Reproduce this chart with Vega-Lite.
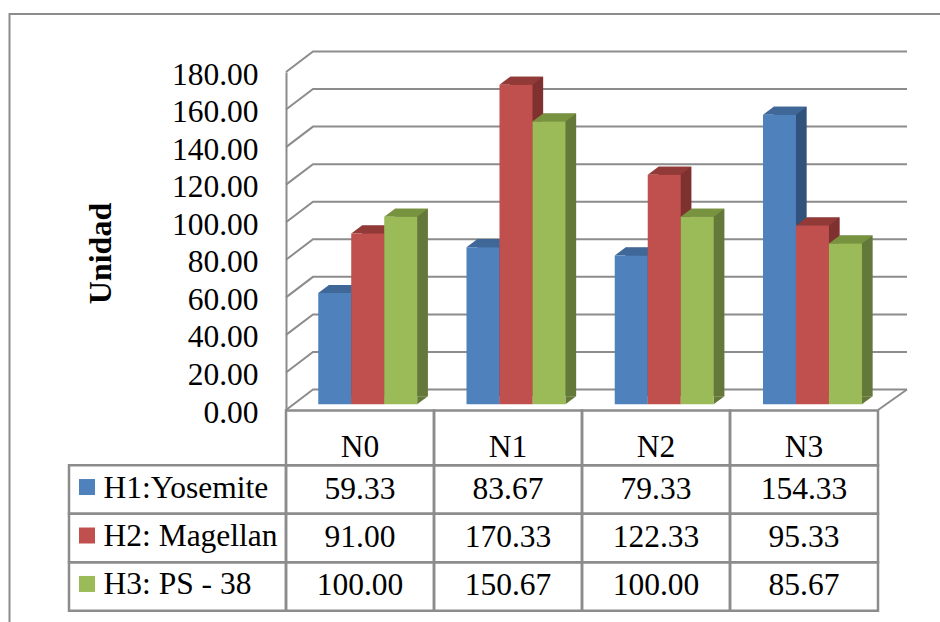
{
  "$schema": "https://vega.github.io/schema/vega-lite/v6.json",
  "width": 936,
  "height": 614,
  "autosize": "none",
  "padding": {"left": 9.5, "top": 14, "right": 0, "bottom": 0},
  "background": "white",
  "view": {"stroke": "#8c8c8c", "strokeWidth": 2, "fill": "white"},
  "config": {"font": "Liberation Serif"},
  "datasets": {
    "measures": [
      {"level": "N0", "series": "H1:Yosemite", "value": 59.33},
      {"level": "N0", "series": "H2: Magellan", "value": 91.0},
      {"level": "N0", "series": "H3: PS - 38", "value": 100.0},
      {"level": "N1", "series": "H1:Yosemite", "value": 83.67},
      {"level": "N1", "series": "H2: Magellan", "value": 170.33},
      {"level": "N1", "series": "H3: PS - 38", "value": 150.67},
      {"level": "N2", "series": "H1:Yosemite", "value": 79.33},
      {"level": "N2", "series": "H2: Magellan", "value": 122.33},
      {"level": "N2", "series": "H3: PS - 38", "value": 100.0},
      {"level": "N3", "series": "H1:Yosemite", "value": 154.33},
      {"level": "N3", "series": "H2: Magellan", "value": 95.33},
      {"level": "N3", "series": "H3: PS - 38", "value": 85.67}
    ],
    "levels": [{"level": "N0"}, {"level": "N1"}, {"level": "N2"}, {"level": "N3"}],
    "seriesNames": [{"series": "H1:Yosemite"}, {"series": "H2: Magellan"}, {"series": "H3: PS - 38"}],
    "ticks": [
      {"tick": 0}, {"tick": 20}, {"tick": 40}, {"tick": 60}, {"tick": 80},
      {"tick": 100}, {"tick": 120}, {"tick": 140}, {"tick": 160}, {"tick": 180}
    ]
  },
  "layer": [
    {
      "layer": [
        {
          "data": {"name": "ticks"},
          "mark": {
            "type": "point",
            "shape": "M0,0 L27,-20.5 L621,-20.5",
            "size": 4,
            "filled": false,
            "fill": "transparent",
            "stroke": "#8c8c8c",
            "strokeWidth": 2,
            "opacity": 1
          },
          "encoding": {
            "x": {
              "datum": "N0",
              "type": "nominal",
              "bandPosition": 0,
              "scale": {"type": "band", "domain": ["N0", "N1", "N2", "N3"], "range": [276.5, 868.5], "padding": 0},
              "axis": null
            },
            "y": {
              "field": "tick",
              "type": "quantitative",
              "scale": {"domain": [0, 180], "range": [396, 58], "nice": false},
              "axis": {
                "orient": "left",
                "offset": -276.5,
                "values": [0, 20, 40, 60, 80, 100, 120, 140, 160, 180],
                "format": ".2f",
                "grid": false,
                "ticks": false,
                "domain": true,
                "domainColor": "#8c8c8c",
                "domainWidth": 2,
                "labelColor": "#000000",
                "labelFont": "Liberation Serif",
                "labelFontSize": 31.5,
                "labelPadding": 28,
                "labelOffset": 3,
                "labelOverlap": false,
                "labelBound": false,
                "title": "Unidad",
                "titleFont": "Liberation Serif",
                "titleFontWeight": "bold",
                "titleFontSize": 32,
                "titleColor": "#000000",
                "titleAngle": 270,
                "titleAlign": "center",
                "titleBaseline": "alphabetic",
                "titleX": -176,
                "titleY": 239
              }
            }
          }
        },
        {
          "data": {"values": [{"tick": 0}]},
          "mark": {
            "type": "point",
            "shape": "M621,-20.5 L592,0",
            "size": 4,
            "filled": false,
            "fill": "transparent",
            "stroke": "#8c8c8c",
            "strokeWidth": 2,
            "opacity": 1
          },
          "encoding": {
            "x": {"datum": "N0", "type": "nominal", "bandPosition": 0, "axis": null},
            "y": {"field": "tick", "type": "quantitative"}
          }
        }
      ]
    },
    {
      "data": {"name": "measures"},
      "mark": {"type": "bar"},
      "encoding": {
        "x": {
          "field": "level",
          "type": "nominal",
          "scale": {"type": "band", "domain": ["N0", "N1", "N2", "N3"], "range": [294.8, 887.8], "padding": 0},
          "axis": null
        },
        "xOffset": {
          "field": "series",
          "type": "nominal",
          "sort": null,
          "scale": {"paddingOuter": 0.747, "paddingInner": 0}
        },
        "y": {"field": "value", "type": "quantitative", "scale": {"domain": [0, 180], "range": [382.3, 44.5], "nice": false}, "axis": null},
        "color": {"field": "series", "type": "nominal", "scale": {"range": ["#31527a", "#7e312f", "#64783a"]}, "legend": null}
      }
    },
    {
      "data": {"name": "measures"},
      "encoding": {
        "x": {
          "field": "level",
          "type": "nominal",
          "scale": {"type": "band", "domain": ["N0", "N1", "N2", "N3"], "range": [284.1, 877.1], "padding": 0},
          "axis": null
        },
        "xOffset": {
          "field": "series",
          "type": "nominal",
          "sort": null,
          "scale": {"paddingOuter": 0.747, "paddingInner": 0}
        }
      },
      "layer": [
        {
          "mark": {"type": "point", "shape": "M16.5,0 L27.2,-8 L16.5,-8 Z", "size": 4, "filled": true, "opacity": 1},
          "encoding": {
            "y": {"datum": 0, "type": "quantitative", "scale": {"domain": [0, 180], "range": [390.3, 52.5], "nice": false}, "axis": null},
            "color": {"field": "series", "type": "nominal", "scale": {"range": ["#31527a", "#7e312f", "#64783a"]}, "legend": null}
          }
        },
        {
          "mark": {"type": "point", "shape": "M-16.5,0 L-5.8,-8 L27.2,-8 L16.5,0 Z", "size": 4, "filled": true, "opacity": 1},
          "encoding": {
            "y": {"field": "value", "type": "quantitative"},
            "color": {"field": "series", "type": "nominal", "scale": {"range": ["#3f6797", "#923a38", "#789340"]}, "legend": null}
          }
        },
        {
          "mark": {"type": "bar"},
          "encoding": {
            "y": {"field": "value", "type": "quantitative"},
            "color": {"field": "series", "type": "nominal", "scale": {"range": ["#4f81bd", "#c0504d", "#9bbb59"]}, "legend": null}
          }
        }
      ],
      "resolve": {"scale": {"color": "independent"}}
    },
    {
      "data": {"name": "levels"},
      "encoding": {
        "x": {
          "field": "level",
          "type": "nominal",
          "scale": {"type": "band", "domain": ["N0", "N1", "N2", "N3"], "range": [276.5, 868.5], "padding": 0},
          "axis": null
        },
        "y": {
          "datum": "head",
          "type": "nominal",
          "scale": {"type": "band", "domain": ["head"], "range": [396.5, 451.3], "padding": 0},
          "axis": null
        }
      },
      "layer": [
        {"mark": {"type": "rect", "fill": "transparent", "stroke": "#8c8c8c", "strokeWidth": 2.5}},
        {
          "mark": {"type": "text", "font": "Liberation Serif", "fontSize": 31.5, "color": "#000000", "baseline": "middle", "dy": 10},
          "encoding": {"text": {"field": "level"}}
        }
      ]
    },
    {
      "data": {"name": "measures"},
      "encoding": {
        "x": {
          "field": "level",
          "type": "nominal",
          "scale": {"type": "band", "domain": ["N0", "N1", "N2", "N3"], "range": [276.5, 868.5], "padding": 0},
          "axis": null
        },
        "y": {
          "field": "series",
          "type": "nominal",
          "sort": null,
          "scale": {"type": "band", "range": [451.3, 596.7], "padding": 0},
          "axis": null
        }
      },
      "layer": [
        {"mark": {"type": "rect", "fill": "transparent", "stroke": "#8c8c8c", "strokeWidth": 2.5}},
        {
          "mark": {"type": "text", "font": "Liberation Serif", "fontSize": 31.5, "color": "#000000", "baseline": "middle"},
          "encoding": {"text": {"field": "value", "type": "quantitative", "format": ".2f"}}
        }
      ]
    },
    {
      "data": {"name": "seriesNames"},
      "encoding": {
        "x": {
          "datum": "label",
          "type": "nominal",
          "bandPosition": 0,
          "scale": {"type": "band", "domain": ["label"], "range": [59.5, 276.5], "padding": 0},
          "axis": null
        },
        "y": {
          "field": "series",
          "type": "nominal",
          "sort": null,
          "scale": {"type": "band", "range": [451.3, 596.7], "padding": 0},
          "axis": null
        }
      },
      "layer": [
        {
          "mark": {"type": "rect", "fill": "transparent", "stroke": "#8c8c8c", "strokeWidth": 2.5},
          "encoding": {"x": {"datum": "label", "type": "nominal", "axis": null}}
        },
        {
          "mark": {"type": "point", "shape": "square", "size": 256, "filled": true, "opacity": 1, "xOffset": 18, "yOffset": -2.5},
          "encoding": {
            "color": {"field": "series", "type": "nominal", "scale": {"range": ["#4f81bd", "#c0504d", "#9bbb59"]}, "legend": null}
          }
        },
        {
          "mark": {"type": "text", "font": "Liberation Serif", "fontSize": 31.5, "color": "#000000", "align": "left", "baseline": "middle", "dx": 34.5, "dy": -1},
          "encoding": {"text": {"field": "series"}}
        }
      ]
    }
  ],
  "resolve": {"scale": {"x": "independent", "y": "independent", "xOffset": "independent", "color": "independent"}, "axis": {"x": "independent", "y": "independent"}}
}
